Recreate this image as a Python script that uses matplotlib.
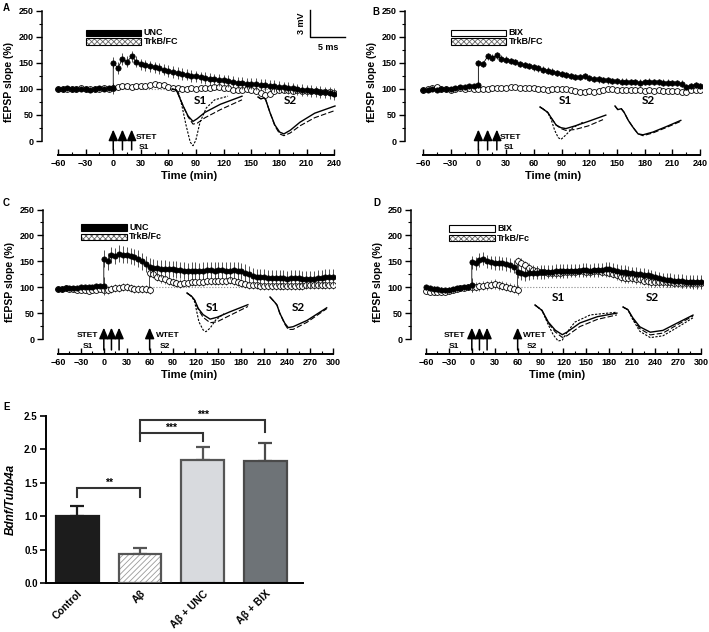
import numpy as np
import matplotlib
matplotlib.use('Agg')
import matplotlib.pyplot as plt

plt.rcParams['font.family'] = ['Liberation Sans', 'DejaVu Sans']
plt.rcParams['font.weight'] = 'bold'
plt.rcParams['axes.labelweight'] = 'bold'
plt.rcParams['hatch.linewidth'] = 0.6

W, H = 709, 632

########
# Data #
########
# time axes (min), duplicate point at the tetanus so the jump is vertical
t_base = np.arange(-60, 5, 5)
t_post_240 = np.arange(0, 245, 5)
t_post_300 = np.arange(0, 305, 5)
t_open_240 = np.arange(-60, 245, 5)
t_open_pre = np.arange(-60, 65, 5)
t_open_post = np.arange(60, 305, 5)

# Panel A (UNC + TrkB/FC)
a_filled_base = [100, 100, 101, 100, 99, 100, 99, 98, 100, 101, 100, 101, 101]
a_filled_post = [150, 140, 157, 152, 162, 152, 147, 145, 143, 141, 139, 137, 134,
                 132, 130, 128, 127, 125, 124, 122, 121, 119, 118, 117, 116, 115,
                 114, 112, 111, 110, 110, 109, 108, 107, 106, 105, 104, 103, 102,
                 101, 99, 98, 97, 96, 95, 94, 93, 92, 90]
a_open = [99, 100, 100, 99, 100, 101, 100, 99, 100, 100, 101, 100,
          102, 103, 105, 106, 104, 105, 106, 106, 107, 110, 108, 107, 104,
          102, 101, 100, 100, 101, 100, 101, 101, 102, 103, 103, 102, 101,
          98, 97, 98, 99, 98, 96, 92, 89, 91, 96, 97, 98, 97, 96, 97, 96,
          95, 96, 95, 94, 94, 93, 92]

# Panel B (BIX + TrkB/FC)
b_filled_base = [98, 98, 99, 98, 99, 100, 100, 101, 103, 104, 105, 106, 107]
b_filled_post = [150, 148, 162, 160, 164, 158, 156, 154, 151, 148, 146, 144, 141,
                 139, 137, 135, 133, 131, 129, 127, 125, 123, 123, 124, 121, 119,
                 118, 117, 116, 115, 115, 114, 114, 113, 113, 112, 113, 114, 113,
                 113, 112, 112, 111, 111, 110, 104, 106, 108, 105]
b_open = [97, 100, 102, 104, 100, 99, 98, 100, 101, 100, 101, 100,
          100, 99, 100, 101, 102, 101, 102, 103, 103, 102, 102, 101, 101,
          100, 99, 98, 99, 100, 100, 100, 97, 95, 94, 94, 95, 94, 96, 98,
          99, 99, 98, 98, 97, 97, 98, 97, 96, 97, 96, 97, 96, 96, 96, 95,
          94, 93, 97, 98, 97]

# Panel C (UNC + TrkB/Fc, STET S1 / WTET S2)
c_filled_base = [97, 97, 98, 98, 98, 99, 100, 100, 101, 101, 102, 102, 103]
c_filled_post = [155, 150, 162, 160, 165, 163, 162, 160, 158, 155, 150, 145, 140,
                 138, 137, 136, 136, 135, 135, 134, 133, 132, 131, 132, 132, 131,
                 132, 133, 133, 132, 133, 133, 132, 132, 133, 132, 131, 128, 125,
                 122, 120, 119, 119, 118, 118, 118, 117, 117, 116, 117, 118, 117,
                 116, 115, 115, 116, 117, 118, 119, 120, 120]
c_open_pre = [97, 97, 98, 97, 96, 95, 94, 94, 93, 94, 95, 96, 94, 95, 97, 98,
              99, 100, 100, 99, 97, 96, 96, 96, 95]
c_open_post = [128, 125, 120, 117, 115, 113, 110, 108, 107, 108, 109, 110, 110,
               111, 111, 112, 112, 113, 113, 112, 113, 114, 112, 110, 108, 106,
               105, 104, 104, 103, 103, 103, 102, 102, 103, 103, 102, 102, 103,
               103, 103, 104, 104, 104, 105, 105, 105, 105, 105]

# Panel D (BIX + TrkB/Fc, STET S1 / WTET S2)
d_filled_base = [100, 98, 97, 96, 95, 94, 95, 96, 98, 99, 100, 101, 104]
d_filled_post = [148, 146, 153, 155, 150, 148, 147, 147, 146, 145, 143, 140, 130,
                 127, 126, 127, 128, 128, 129, 129, 130, 130, 131, 131, 131, 131,
                 132, 132, 132, 133, 133, 132, 133, 133, 134, 135, 135, 134, 132,
                 130, 129, 128, 127, 126, 125, 124, 123, 121, 119, 117, 115, 114,
                 114, 113, 113, 112, 111, 111, 110, 110, 110]
d_open_pre = [92, 91, 90, 90, 90, 91, 92, 94, 96, 98, 99, 100, 100, 101, 102,
              103, 104, 105, 106, 104, 103, 101, 99, 97, 95]
d_open_post = [150, 147, 142, 138, 134, 132, 130, 129, 128, 128, 128, 128, 129,
               129, 130, 130, 131, 131, 130, 130, 131, 131, 130, 129, 128, 126,
               123, 120, 118, 118, 117, 116, 115, 113, 112, 110, 110, 110, 110,
               110, 110, 109, 109, 108, 108, 108, 108, 108, 108]

# SEM estimates (baseline, after tetanus)
sem_filled = {'A': (3, 11), 'B': (3, 6), 'C': (4, 16), 'D': (5, 13)}
sem_open = {'A': (3, 5), 'B': (3, 4), 'C': (4, 8), 'D': (4, 9)}

# Example sweeps (ms, mV relative to baseline)
a_s1_t = [0, 0.6, 0.9, 1.6, 2.3, 3.0, 3.6, 4.7, 6.9, 10]
a_s1_solid = [0, -0.1, -0.6, -1.9, -3.0, -3.6, -3.3, -2.6, -1.7, -0.8]
a_s1_dash = [0, -0.1, -0.6, -1.9, -3.1, -3.9, -3.8, -3.2, -2.3, -1.2]
a_s1_dot_t = [0, 0.9, 1.4, 2.0, 2.6, 3.0, 3.4, 4.0, 4.9, 6.1, 8.0]
a_s1_dot = [0, -0.3, -1.8, -4.0, -5.9, -6.3, -5.7, -3.7, -2.1, -1.2, -0.8]
a_s2_t = [0, 0.4, 0.9, 1.1, 1.7, 2.4, 3.1, 3.7, 4.6, 6.0, 8.1, 11]
a_s2_solid = [0, -0.2, -0.1, -0.3, -1.7, -3.1, -3.9, -4.1, -3.7, -2.8, -1.8, -1.0]
a_s2_dash = [0, -0.2, -0.1, -0.3, -1.7, -3.2, -4.1, -4.3, -4.0, -3.2, -2.3, -1.5]

b_s1_t = [0, 0.4, 1.1, 1.6, 2.3, 3.0, 3.7, 5.0, 6.9, 9.4]
b_s1_solid = [0, -0.2, -0.6, -1.2, -2.0, -2.3, -2.4, -2.1, -1.6, -0.9]
b_s1_dash_t = [0, 0.4, 1.1, 1.6, 2.3, 3.0, 3.7, 5.0, 6.9, 9.0]
b_s1_dash = [0, -0.2, -0.6, -1.2, -2.0, -2.4, -2.6, -2.5, -2.1, -1.4]
b_s1_dot_t = [0, 0.4, 1.1, 1.6, 2.1, 2.6, 3.0, 3.7, 4.7, 6.1]
b_s1_dot = [0, -0.2, -0.6, -1.4, -2.6, -3.4, -3.6, -3.1, -2.3, -1.7]
b_s2_t = [0, 0.4, 0.9, 1.3, 1.9, 2.6, 3.3, 4.0, 5.4, 7.3, 9.4]
b_s2_solid = [0, -0.4, -0.3, -0.7, -1.6, -2.4, -3.1, -3.2, -2.9, -2.3, -1.6]
b_s2_dash = [0, -0.4, -0.3, -0.7, -1.6, -2.4, -3.1, -3.3, -3.0, -2.4, -1.7]

c_s1_t = [0, 0.7, 1.1, 1.6, 2.3, 3.3, 4.3, 6.1, 8.7]
c_s1_solid = [0, -0.4, -0.8, -1.7, -2.4, -2.9, -2.7, -2.1, -1.3]
c_s1_dash = [0, -0.4, -0.8, -1.8, -2.7, -3.3, -3.2, -2.5, -1.5]
c_s1_dot_t = [0, 0.7, 1.1, 1.4, 1.7, 2.3, 2.7, 3.3, 4.1, 5.3]
c_s1_dot = [0, -0.4, -1.0, -2.1, -3.2, -4.1, -4.3, -3.9, -3.0, -2.3]
c_s2_t = [0, 0.7, 1.0, 1.4, 2.1, 2.6, 3.3, 5.3, 8.1]
c_s2_solid = [0, -0.6, -0.9, -1.8, -2.9, -3.4, -3.3, -2.6, -1.2]
c_s2_dash = [0, -0.6, -0.9, -1.8, -3.0, -3.6, -3.6, -2.8, -1.3]

d_s1_t = [0, 1.0, 1.9, 2.9, 3.9, 4.6, 6.4, 8.9, 11.7]
d_s1_solid = [0, -0.6, -1.9, -2.8, -3.3, -3.0, -2.0, -1.3, -0.9]
d_s1_dash = [0, -0.6, -2.0, -3.0, -3.6, -3.4, -2.4, -1.6, -1.1]
d_s1_dot_t = [0, 1.0, 1.9, 2.6, 3.3, 3.9, 4.6, 5.7, 7.9, 11.7]
d_s1_dot = [0, -0.6, -2.2, -3.3, -4.0, -3.9, -3.0, -1.9, -1.1, -0.8]
d_s2_t = [0, 0.7, 1.4, 2.4, 3.9, 5.7, 7.7, 10]
d_s2_solid = [0, -0.3, -1.2, -2.2, -2.8, -2.6, -1.8, -0.9]
d_s2_dash = [0, -0.3, -1.3, -2.4, -3.1, -2.9, -2.0, -1.0]
d_s2_dot = [0, -0.3, -1.4, -2.7, -3.4, -3.2, -2.3, -1.2]

# Panel E
groups = ['Control', 'A\u03b2', 'A\u03b2 + UNC', 'A\u03b2 + BIX']
bdnf_mean = [1.01, 0.43, 1.84, 1.83]
bdnf_sem = [0.14, 0.10, 0.20, 0.26]


#########
# Funcs #
#########
def px_axes(fig, left, top, right, bottom):
    return fig.add_axes([left / W, 1 - bottom / H, (right - left) / W, (bottom - top) / H])


def trace_axes(fig, x0, y0):
    # 7 px per ms, 9 px per mV, origin of sweep at (x0, y0) pixels
    ax = px_axes(fig, x0, y0 - 10, x0 + 100, y0 + 70)
    ax.set_xlim(0, 100 / 7)
    ax.set_ylim(-70 / 9, 10 / 9)
    ax.axis('off')
    return ax


def sweep(ax, t, v, style):
    styles = {'solid': dict(ls='-', lw=1.0),
              'dash': dict(ls=(0, (5, 2)), lw=0.8),
              'dot': dict(ls=(0, (2, 1.3)), lw=0.8)}
    ax.plot(t, v, color='black', clip_on=False, **styles[style])


def time_panel(ax, xmin, xmax, ylim_low, tmax):
    ax.set_xlim(xmin, xmax)
    ax.set_ylim(ylim_low, 251)
    for s in ['top', 'right']:
        ax.spines[s].set_visible(False)
    ax.spines['left'].set_bounds(0, 250)
    ax.spines['bottom'].set_bounds(-60, tmax)
    ax.spines['left'].set_linewidth(1.1)
    ax.spines['bottom'].set_linewidth(1.4)
    ax.set_yticks(np.arange(0, 251, 50))
    ax.set_yticks(np.arange(25, 251, 50), minor=True)
    ax.set_xticks(np.arange(-60, tmax + 1, 30))
    ax.set_xticks(np.arange(-45, tmax, 30), minor=True)
    ax.tick_params(axis='y', which='major', direction='out', length=4, width=1.0,
                   labelsize=6.5, pad=2)
    ax.tick_params(axis='y', which='minor', direction='out', length=2.5, width=0.8)
    ax.tick_params(axis='x', which='major', direction='in', length=4, width=1.0,
                   labelsize=6.5, pad=3)
    ax.tick_params(axis='x', which='minor', direction='in', length=2.5, width=0.8)
    ax.set_ylabel('fEPSP slope (%)', fontsize=7.5, labelpad=3)
    ax.set_xlabel('Time (min)', fontsize=8, labelpad=2)


def series(ax, t, y, sem, filled):
    y = np.asarray(y, dtype=float)
    err = np.where(np.asarray(t) < 0, sem[0], sem[1])
    if filled:
        ax.errorbar(t, y, yerr=err, fmt='none', ecolor='#333333', elinewidth=0.6, zorder=3)
        ax.plot(t, y, '-o', color='black', lw=0.6, ms=3.8, mfc='black', mec='black',
                mew=0.5, zorder=4)
    else:
        ax.errorbar(t, y, yerr=err, fmt='none', ecolor='#555555', elinewidth=0.6, zorder=2)
        ax.plot(t, y, '-o', color='black', lw=0.5, ms=4.2, mfc='white', mec='black',
                mew=0.6, zorder=2.5)


def drug_bars(ax, label1, y1, filled1, label2, y2, fontsize=6.5):
    ax.barh(y1, 60, left=-30, height=13, color='black' if filled1 else 'white',
            edgecolor='black', lw=0.8, zorder=5)
    ax.barh(y2, 60, left=-30, height=13, color='white', edgecolor='#666666', lw=0,
            hatch='xxxxxx', zorder=5)
    ax.barh(y2, 60, left=-30, height=13, color='none', edgecolor='black', lw=0.8, zorder=6)
    ax.text(33, y1, label1, fontsize=fontsize, va='center', ha='left')
    ax.text(33, y2, label2, fontsize=fontsize, va='center', ha='left')


def stim_arrow(ax, x, y0, y1):
    ax.annotate('', xy=(x, y1), xytext=(x, y0),
                arrowprops=dict(arrowstyle='-|>,head_length=0.65,head_width=0.28',
                                color='black', lw=1.1, shrinkA=0, shrinkB=0),
                annotation_clip=False)


def sweep_label(px, py, text):
    fig.text(px / W, 1 - py / H, text, fontsize=8.5, family='Lato', weight='bold',
             ha='center', va='center')


fig = plt.figure(figsize=(W / 100, H / 100), dpi=100)

############
# Panel A  #
############
axA = px_axes(fig, 42, 10, 336, 155)
time_panel(axA, -77.4, 242, -26.7, 240)
axA.plot([0, 240], [100, 100], ls=':', color='#888888', lw=0.8, zorder=1)
series(axA, t_open_240, a_open, sem_open['A'], False)
series(axA, np.concatenate([t_base, t_post_240]), a_filled_base + a_filled_post,
       sem_filled['A'], True)
drug_bars(axA, 'UNC', 207, True, 'TrkB/FC', 190)
for x in [0, 10, 20]:
    stim_arrow(axA, x, -17, 22)
axA.text(24, 6, 'STET', fontsize=6, ha='left', va='center')
axA.text(33, -12, 'S1', fontsize=6, ha='center', va='center')

tr = trace_axes(fig, 172, 89)
sweep(tr, a_s1_t, a_s1_solid, 'solid')
sweep(tr, a_s1_t, a_s1_dash, 'dash')
sweep(tr, a_s1_dot_t, a_s1_dot, 'dot')
tr = trace_axes(fig, 258, 97)
sweep(tr, a_s2_t, a_s2_solid, 'solid')
sweep(tr, a_s2_t, a_s2_dash, 'dash')
sweep_label(200, 101, 'S1')
sweep_label(290, 101, 'S2')

# scale bar 3 mV / 5 ms
sb = trace_axes(fig, 310, 37)
sb.plot([0, 0, 5], [3, 0, 0], color='black', lw=1.0, clip_on=False)
fig.text(301 / W, 1 - 23 / H, '3 mV', fontsize=6.5, rotation=90, ha='center', va='center')
fig.text(328 / W, 1 - 47 / H, '5 ms', fontsize=6.5, ha='center', va='center')

############
# Panel B  #
############
axB = px_axes(fig, 405, 10, 702, 155)
time_panel(axB, -79.4, 242, -26.7, 240)
series(axB, t_open_240, b_open, sem_open['B'], False)
series(axB, np.concatenate([t_base, t_post_240]), b_filled_base + b_filled_post,
       sem_filled['B'], True)
drug_bars(axB, 'BIX', 207, False, 'TrkB/FC', 190)
for x in [0, 10, 20]:
    stim_arrow(axB, x, -17, 22)
axB.text(23, 6, 'STET', fontsize=6, ha='left', va='center')
axB.text(33, -12, 'S1', fontsize=6, ha='center', va='center')

tr = trace_axes(fig, 540, 107)
sweep(tr, b_s1_t, b_s1_solid, 'solid')
sweep(tr, b_s1_dash_t, b_s1_dash, 'dash')
sweep(tr, b_s1_dot_t, b_s1_dot, 'dot')
tr = trace_axes(fig, 615, 106)
sweep(tr, b_s2_t, b_s2_solid, 'solid')
sweep(tr, b_s2_t, b_s2_dash, 'dash')
sweep_label(565, 101, 'S1')
sweep_label(648, 101, 'S2')

############
# Panel C  #
############
axC = px_axes(fig, 43, 209, 335, 354)
time_panel(axC, -79.6, 302.6, -28.8, 300)
axC.plot([60, 300], [100, 100], ls=':', color='#888888', lw=0.8, zorder=1)
series(axC, np.concatenate([t_open_pre, t_open_post]), c_open_pre + c_open_post,
       sem_open['C'], False)
series(axC, np.concatenate([t_base, t_post_300]), c_filled_base + c_filled_post,
       sem_filled['C'], True)
drug_bars(axC, 'UNC', 215, True, 'TrkB/Fc', 197)
for x in [0, 10, 20, 60]:
    stim_arrow(axC, x, -21, 22)
axC.text(-7, 6, 'STET', fontsize=6, ha='right', va='center')
axC.text(-21, -15, 'S1', fontsize=6, ha='center', va='center')
axC.text(68, 6, 'WTET', fontsize=6, ha='left', va='center')
axC.text(80, -15, 'S2', fontsize=6, ha='center', va='center')

tr = trace_axes(fig, 187, 293)
sweep(tr, c_s1_t, c_s1_solid, 'solid')
sweep(tr, c_s1_t, c_s1_dash, 'dash')
sweep(tr, c_s1_dot_t, c_s1_dot, 'dot')
tr = trace_axes(fig, 270, 297)
sweep(tr, c_s2_t, c_s2_solid, 'solid')
sweep(tr, c_s2_t, c_s2_dash, 'dash')
sweep_label(212, 308, 'S1')
sweep_label(298, 308, 'S2')

############
# Panel D  #
############
axD = px_axes(fig, 411, 209, 703, 354)
time_panel(axD, -79.6, 302.6, -28.8, 300)
axD.plot([60, 300], [100, 100], ls=':', color='#888888', lw=0.8, zorder=1)
series(axD, np.concatenate([t_open_pre, t_open_post]), d_open_pre + d_open_post,
       sem_open['D'], False)
series(axD, np.concatenate([t_base, t_post_300]), d_filled_base + d_filled_post,
       sem_filled['D'], True)
drug_bars(axD, 'BIX', 213, False, 'TrkB/Fc', 195)
for x in [0, 10, 20, 60]:
    stim_arrow(axD, x, -21, 22)
axD.text(-9, 6, 'STET', fontsize=6, ha='right', va='center')
axD.text(-24, -15, 'S1', fontsize=6, ha='center', va='center')
axD.text(67, 6, 'WTET', fontsize=6, ha='left', va='center')
axD.text(78, -15, 'S2', fontsize=6, ha='center', va='center')

tr = trace_axes(fig, 535, 305)
sweep(tr, d_s1_t, d_s1_solid, 'solid')
sweep(tr, d_s1_t, d_s1_dash, 'dash')
sweep(tr, d_s1_dot_t, d_s1_dot, 'dot')
tr = trace_axes(fig, 623, 307)
sweep(tr, d_s2_t, d_s2_solid, 'solid')
sweep(tr, d_s2_t, d_s2_dash, 'dash')
sweep(tr, d_s2_t, d_s2_dot, 'dot')
sweep_label(558, 297, 'S1')
sweep_label(652, 297, 'S2')

############
# Panel E  #
############
axE = px_axes(fig, 46, 416, 303, 583)
x = np.arange(len(groups))
faces = ['#1c1c1c', 'white', '#d8dade', '#6e7377']
edges = ['#1c1c1c', '#555555', '#555555', '#4a4a4a']
hatches = [None, '//////', None, None]
for i in range(len(groups)):
    axE.bar(x[i], bdnf_mean[i], width=0.68, color=faces[i],
            edgecolor='#9a9a9a' if hatches[i] else edges[i],
            lw=0 if hatches[i] else 1.6, hatch=hatches[i], zorder=2)
    if hatches[i]:
        axE.bar(x[i], bdnf_mean[i], width=0.68, color='none', edgecolor=edges[i],
                lw=1.6, zorder=3)
    axE.errorbar(x[i], bdnf_mean[i], yerr=[[0], [bdnf_sem[i]]], fmt='none',
                 ecolor=edges[i], elinewidth=1.6, capsize=5, capthick=1.6, zorder=1)
axE.set_xlim(-0.5, 3.6)
axE.set_ylim(0, 2.5)
axE.set_yticks(np.arange(0, 2.51, 0.5))
axE.set_yticklabels([f'{v:.1f}' for v in np.arange(0, 2.51, 0.5)])
axE.set_xticks(x)
axE.set_xticklabels(groups, rotation=45, ha='right', rotation_mode='anchor')
for s in ['top', 'right']:
    axE.spines[s].set_visible(False)
for s in ['left', 'bottom']:
    axE.spines[s].set_linewidth(1.4)
axE.tick_params(axis='y', direction='out', length=4, width=1.2, labelsize=7, pad=2)
axE.tick_params(axis='x', direction='out', length=0, labelsize=7.5, pad=4)
axE.set_ylabel('Bdnf/Tubb4a', fontsize=8.5, style='italic', labelpad=5)

# significance brackets
brackets = [(0, 1, 1.42, 1.29, 1.29, '**'),
            (1, 2, 2.25, 2.12, 2.13, '***'),
            (1, 3, 2.44, 2.25, 2.26, '***')]
for x1, x2, h, l1, l2, star in brackets:
    axE.plot([x[x1], x[x1], x[x2], x[x2]], [l1, h, h, l2], color='#333333', lw=1.5,
             clip_on=False, solid_joinstyle='miter')
    axE.text((x[x1] + x[x2]) / 2, h + 0.005, star, fontsize=7.5, ha='center', va='bottom')

# panel letters
for letter, px, py in [('A', 3, 8), ('B', 372, 12), ('C', 3, 203), ('D', 373, 203),
                       ('E', 3, 407)]:
    fig.text(px / W, 1 - py / H, letter, fontsize=7, weight='bold', ha='left', va='center')

fig.savefig('out.png', dpi=100)
